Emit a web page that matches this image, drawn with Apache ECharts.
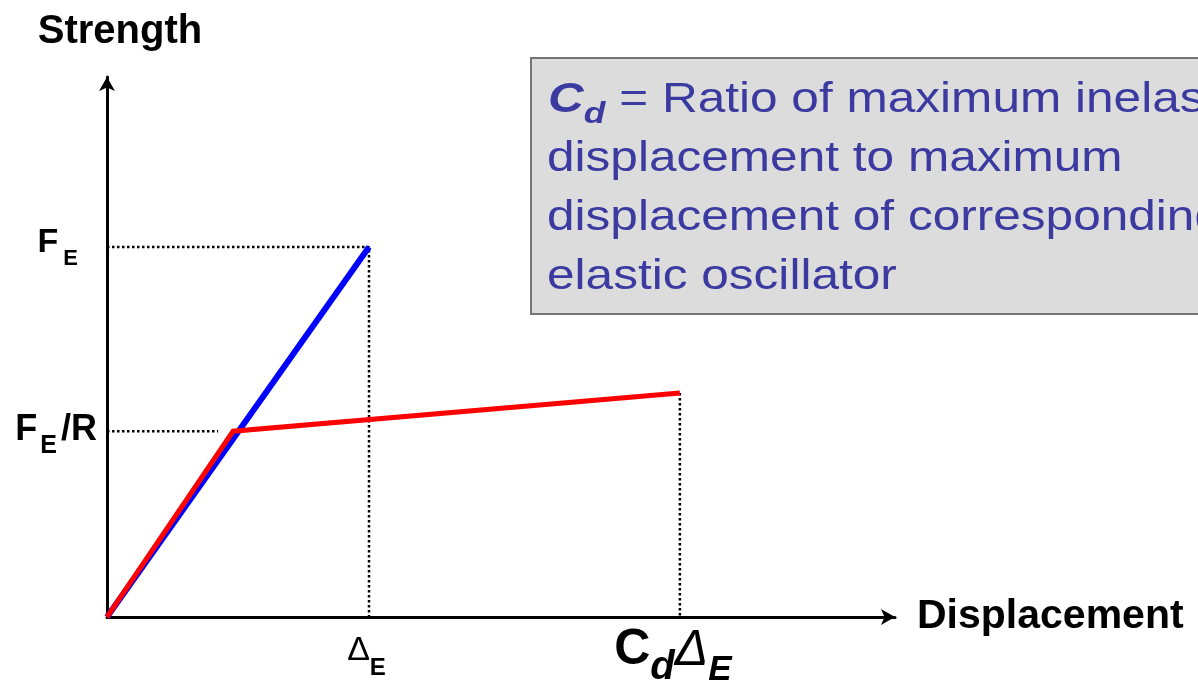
<!DOCTYPE html>
<html><head><meta charset="utf-8">
<script src="https://cdn.jsdelivr.net/npm/echarts@6/dist/echarts.min.js"></script>
<style>html,body{margin:0;padding:0;background:#fff}#c{width:1198px;height:688px}</style>
</head><body><div id="c"></div>
<script>
// ---- data (arbitrary units on a 0..100 scale) ----
const xTickValues = [33.25, 72.7];           // ΔE , Cd·ΔE
const xTickLabels = ['{D|Δ}{e|E}', '{C2|C}{d2|d}{D2|Δ}{e2|E}'];
const yTickValues = [34.4, 68.5];           // FE/R , FE
const yTickLabels = ['{F2|F}{e3|E}{R|/R}', '{F|F}{e|E}'];
const elasticX = [0, 33.25];
const elasticY = [0, 68.5];
const inelasticX = [0, 16.0, 72.7];
const inelasticY = [0, 34.4, 41.5];
const guideFE_X = [0, 33.25, 33.25];
const guideFE_Y = [68.5, 68.5, 0];
const guideFR_X = [0, 14.1];
const guideFR_Y = [34.4, 34.4];
const guideCd_X = [72.7, 72.7];
const guideCd_Y = [41.5, 0];
const xName = 'Displacement';
const yName = 'Strength';
const noteLine1 = ' = Ratio of maximum inelastic';
const noteLines = ['displacement to maximum', 'displacement of corresponding', 'elastic oscillator'];

const pairs = (xs, ys) => xs.map((x, i) => [x, ys[i]]);
const FONT = '"Liberation Sans", Arial, sans-serif';
const chart = echarts.init(document.getElementById('c'));

const dotted = { color: '#000', width: 2.5, type: [2.5, 2.5] };
function lineSeries(xs, ys, style, z) {
  return { type: 'line', data: pairs(xs, ys), symbol: 'none', showSymbol: false,
           lineStyle: style, z: z, silent: true, animation: false };
}
function tok(size, lh, weight, style, pad) {
  return { fontFamily: FONT, fontSize: size, lineHeight: lh, fontWeight: weight, fontStyle: style, color: '#000', padding: pad };
}

const noteColor = '#3a3aa0';
chart.setOption({
  animation: false,
  backgroundColor: '#fff',
  grid: { left: 107, right: 303, top: 77, bottom: 71, containLabel: false, outerBoundsMode: 'none' },
  xAxis: {
    type: 'value', min: 0, max: 100,
    splitLine: { show: false }, axisTick: { show: false },
    axisLine: { lineStyle: { color: '#000', width: 3 }, symbol: ['none', 'arrow'], symbolSize: [12, 14] },
    name: xName, nameLocation: 'end', nameGap: 22,
    nameTextStyle: { fontFamily: FONT, fontWeight: 'bold', fontSize: 41, color: '#000', padding: [0, 0, 16, 0] },
    axisLabel: {
      customValues: xTickValues, margin: 4, color: '#000',
      formatter: v => xTickLabels[xTickValues.indexOf(v)],
      rich: {
        D: tok(34, 60, 'normal', 'normal', [0, 0, 1.6, 0]),
        e: tok(24, 60, 'bold', 'normal', [35.4, 5, 0, 0]),
        C2: tok(50, 80, 'bold', 'normal', [0, 0, 20.6, 0]),
        d2: tok(40, 80, 'bold', 'italic', [14.2, 0, 0, 0]),
        D2: tok(50, 80, 'normal', 'italic', [0, 0, 20.6, 0]),
        e2: tok(35, 80, 'bold', 'italic', [17.8, 14, 0, 0])
      }
    }
  },
  yAxis: {
    type: 'value', min: 0, max: 100,
    splitLine: { show: false }, axisTick: { show: false },
    axisLine: { lineStyle: { color: '#000', width: 3 }, symbol: ['none', 'arrow'], symbolSize: [12, 14] },
    name: yName, nameLocation: 'end', nameGap: 25,
    nameTextStyle: { fontFamily: FONT, fontWeight: 'bold', fontSize: 40, color: '#000', padding: [0, 0, 0, 26] },
    axisLabel: {
      customValues: yTickValues, margin: 10, color: '#000',
      formatter: v => yTickLabels[yTickValues.indexOf(v)],
      rich: {
        F: tok(34, 40, 'bold', 'normal', [0, 0, 9.6, 0]),
        e: tok(22, 40, 'bold', 'normal', [22.8, 19, 0, 5]),
        F2: tok(36, 40, 'bold', 'normal', [0, 0, 3, 0]),
        e3: tok(25, 40, 'bold', 'normal', [30.6, 0, 0, 3]),
        R: tok(36, 40, 'bold', 'normal', [0, 0, 3, 4])
      }
    }
  },
  series: [
    lineSeries(guideFE_X, guideFE_Y, dotted, 2),
    lineSeries(guideFR_X, guideFR_Y, dotted, 2),
    lineSeries(guideCd_X, guideCd_Y, dotted, 2),
    lineSeries(elasticX, elasticY, { color: '#0000ff', width: 6, cap: 'butt' }, 3),
    lineSeries(inelasticX, inelasticY, { color: '#ff0000', width: 5, join: 'miter' }, 4)
  ],
  graphic: [
    { type: 'rect', left: 530, top: 57, z: 10, silent: true,
      shape: { x: 0, y: 0, width: 720, height: 256 },
      style: { fill: '#dcdcdc', stroke: '#747474', lineWidth: 2 } },
    { type: 'text', x: 548, y: 100.4, scaleX: 1.18, z: 11, silent: true,
      style: {
        text: '{c|C}{d|d}{t|' + noteLine1 + '}', verticalAlign: 'middle', align: 'left',
        rich: {
          c: { fontFamily: FONT, fontSize: 42, lineHeight: 42, fontWeight: 'bold', fontStyle: 'italic', fill: noteColor },
          d: { fontFamily: FONT, fontSize: 30, lineHeight: 42, fontWeight: 'bold', fontStyle: 'italic', fill: noteColor, padding: [28.4, 0, 0, 0] },
          t: { fontFamily: FONT, fontSize: 42, lineHeight: 42, fill: noteColor }
        }
      } },
    ...noteLines.map((t, i) => ({
      type: 'text', x: 547, y: 159.4 + 59 * i, scaleX: 1.18, z: 11, silent: true,
      style: { text: t, fontFamily: FONT, fontSize: 42, fill: noteColor, verticalAlign: 'middle', align: 'left' }
    }))
  ]
});
</script>
</body></html>
